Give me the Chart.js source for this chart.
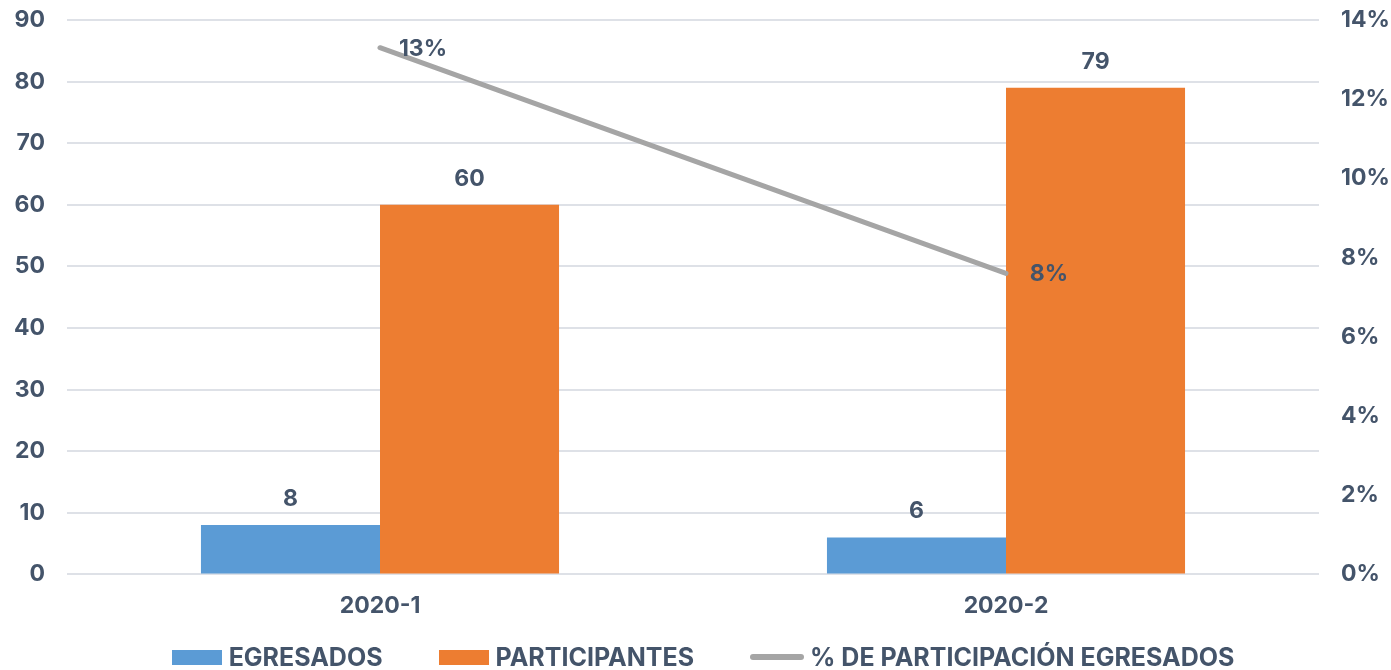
<!DOCTYPE html>
<html>
<head>
<meta charset="utf-8">
<script src="https://cdn.jsdelivr.net/npm/chart.js@4/dist/chart.umd.min.js"></script>
<style>
  html, body { margin: 0; padding: 0; background: #fff; }
  #wrap { width: 1391px; height: 670px; position: relative; }
  #legend {
    position: absolute; left: 15px; right: 0; top: 642px;
    display: flex; justify-content: center; align-items: center;
    font: bold 25px Inter, sans-serif; color: #44546A;
  }
  #legend .item { display: flex; align-items: center; margin: 0 28px; }
  #legend .box { width: 50px; height: 15px; margin-right: 7px; }
  #legend .line { width: 54px; height: 6px; border-radius: 3px; margin-right: 6px; }
</style>
</head>
<body>
<div id="wrap"><canvas id="chart"></canvas><div id="legend"></div></div>
<script>
const periodos = ['2020-1', '2020-2'];
const egresados = [8, 6];
const participantes = [60, 79];
const porcentaje = [13.3, 7.6];

const textColor = '#44546A';
const fontFamily = 'Inter, sans-serif';

// etiquetas de valores sobre barras y linea
const valueLabels = {
    id: 'valueLabels',
    afterDatasetsDraw(chart) {
        const ctx = chart.ctx;
        ctx.save();
        ctx.font = 'bold 23px ' + fontFamily;
        ctx.fillStyle = textColor;
        ctx.textBaseline = 'middle';
        ctx.textAlign = 'center';
        chart.data.datasets.forEach((ds, i) => {
            const meta = chart.getDatasetMeta(i);
            meta.data.forEach((el, j) => {
                if (ds.type === 'line') {
                    ctx.fillText(Math.round(ds.data[j]) + '%', el.x + 43, el.y + 1);
                } else {
                    ctx.fillText(ds.data[j], el.x, el.y - 26);
                }
            });
        });
        ctx.restore();
    }
};

// leyenda en html
const htmlLegend = {
    id: 'htmlLegend',
    afterUpdate(chart) {
        const el = document.getElementById('legend');
        el.innerHTML = '';
        chart.data.datasets.forEach(ds => {
            const item = document.createElement('div');
            item.className = 'item';
            const mark = document.createElement('span');
            mark.className = ds.type === 'line' ? 'line' : 'box';
            mark.style.background = ds.type === 'line' ? ds.borderColor : ds.backgroundColor;
            const txt = document.createElement('span');
            txt.textContent = ds.label;
            item.appendChild(mark);
            item.appendChild(txt);
            el.appendChild(item);
        });
    }
};

// ancho fijo de ejes y margen superior
function fixAxis(width) {
    return scale => {
        scale.width = width;
        scale.paddingTop = 20;
        scale.paddingBottom = 0;
    };
}

new Chart(document.getElementById('chart').getContext('2d'), {
    data: {
        labels: periodos,
        datasets: [{
            type: 'bar',
            label: 'EGRESADOS',
            data: egresados,
            backgroundColor: '#5B9BD5',
            borderWidth: 0,
            order: 1,
            yAxisID: 'y'
        }, {
            type: 'bar',
            label: 'PARTICIPANTES',
            data: participantes,
            backgroundColor: '#ED7D31',
            borderWidth: 0,
            order: 1,
            yAxisID: 'y'
        }, {
            type: 'line',
            label: '% DE PARTICIPACIÓN EGRESADOS',
            data: porcentaje,
            borderColor: '#A5A5A5',
            backgroundColor: '#A5A5A5',
            borderWidth: 5,
            borderCapStyle: 'round',
            pointRadius: 0,
            order: 0,
            yAxisID: 'y1'
        }]
    },
    options: {
        responsive: true,
        maintainAspectRatio: false,
        animation: false,
        layout: {
            padding: { top: 0, bottom: 40, left: 0, right: 0 }
        },
        datasets: {
            bar: {
                categoryPercentage: 0.572,
                barPercentage: 1
            }
        },
        scales: {
            x: {
                grid: { display: false },
                border: { display: false },
                ticks: {
                    color: textColor,
                    font: { family: fontFamily, size: 23, weight: 'bold' },
                    padding: 10
                }
            },
            y: {
                position: 'left',
                min: 0,
                max: 90,
                ticks: {
                    stepSize: 10,
                    color: textColor,
                    font: { family: fontFamily, size: 23, weight: 'bold' },
                    padding: 22
                },
                grid: { color: '#DEE1E7', lineWidth: 2, drawTicks: false },
                border: { display: false },
                afterFit: fixAxis(67)
            },
            y1: {
                position: 'right',
                min: 0,
                max: 14,
                ticks: {
                    stepSize: 2,
                    color: textColor,
                    font: { family: fontFamily, size: 23, weight: 'bold' },
                    padding: 22,
                    callback: v => v + '%'
                },
                grid: { display: false, drawTicks: false },
                border: { display: false },
                afterFit: fixAxis(72)
            }
        },
        plugins: {
            tooltip: { enabled: false },
            legend: { display: false }
        }
    },
    plugins: [valueLabels, htmlLegend]
});
</script>
</body>
</html>
